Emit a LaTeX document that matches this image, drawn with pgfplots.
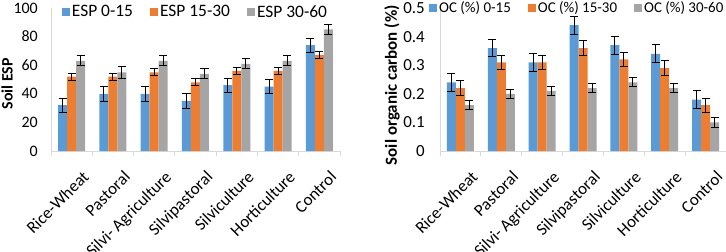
\documentclass[border=0pt]{standalone}
\usepackage{fontspec}
\setmainfont{Carlito}
\usepackage{pgfplots}
\pgfplotsset{compat=1.18}
\usepackage{pgfplotstable}
\definecolor{cBlue}{HTML}{5B9BD5}
\definecolor{cOrange}{HTML}{ED7D31}
\definecolor{cGray}{HTML}{A5A5A5}
\definecolor{axisgray}{HTML}{D9D9D9}

% ESP data
\pgfplotstableread{
x y e
0 32 5
1 40 5
2 40 5
3 35 5
4 46 5
5 45 5
6 74 5
}\espA
\pgfplotstableread{
x y e
0 52 2.5
1 52 2.5
2 55 2.5
3 48 2.5
4 56 2.5
5 56 2.5
6 67 2.5
}\espB
\pgfplotstableread{
x y e
0 63 3.5
1 55 4
2 63 3.5
3 54 3.5
4 61 3.5
5 63 3.5
6 85 3.5
}\espC
% OC data
\pgfplotstableread{
x y e
0 0.24 0.031
1 0.36 0.031
2 0.31 0.031
3 0.44 0.031
4 0.37 0.031
5 0.34 0.031
6 0.18 0.031
}\ocA
\pgfplotstableread{
x y e
0 0.22 0.025
1 0.31 0.025
2 0.31 0.025
3 0.36 0.025
4 0.32 0.025
5 0.29 0.025
6 0.16 0.025
}\ocB
\pgfplotstableread{
x y e
0 0.16 0.016
1 0.20 0.016
2 0.21 0.016
3 0.22 0.016
4 0.24 0.016
5 0.22 0.016
6 0.10 0.016
}\ocC

\pgfplotsset{
  mybars/.style={
    ybar=0pt, bar width=9bp, scale only axis, height=143bp,
    xmin=-0.5, xmax=6.5, xtick={0,...,6},
    xticklabels={Rice-Wheat,Pastoral,Silvi- Agriculture,Silvipastoral,Silviculture,Horticulture,Control},
    minor xtick={-0.5,0.5,...,6.5},
    axis x line*=bottom, axis y line*=left,
    axis line style={draw=axisgray, line width=0.8bp, -},
    every outer x axis line/.append style={-},
    every outer y axis line/.append style={-},
    tick align=outside,
    major tick length=0pt, minor tick length=5bp,
    minor x tick style={draw=axisgray, line width=0.8bp},
    ytick style={draw=none}, xtick style={draw=none},
    xticklabel style={rotate=45, anchor=north east, inner sep=0pt, xshift=-6.2bp, yshift=-20.1bp, font=\fontsize{17}{19}\selectfont},
    yticklabel style={anchor=east, inner sep=0pt},
    legend columns=3,
    legend cell align=left,
    legend style={draw=none, fill=none, anchor=center, inner sep=0pt,
      nodes={inner sep=2bp},
      /tikz/every even column/.append style={column sep=15bp}},
    clip=false,
  },
  sq/.style={legend image code/.code={\fill[##1] (0bp,-4bp) rectangle (8bp,4bp);}},
  eb/.style={error bars/.cd, y dir=both, y explicit,
    error bar style={black, line width=0.9bp},
    error mark options={black, rotate=90, mark size=4bp, line width=0.9bp}},
}

\begin{document}
\begin{tikzpicture}
\useasboundingbox (0,0) rectangle (726bp,252bp);
% Left chart
\begin{axis}[mybars, at={(51bp,101bp)}, anchor=south west, width=289bp,
  ymin=0, ymax=100, ytick={0,20,40,60,80,100},
  yticklabels={0,20,40,60,80,100},
  yticklabel style={xshift=-13bp, font=\fontsize{16}{18}\selectfont},
  every axis y label/.style={at={([xshift=-44bp]axis description cs:0,0.47)}, rotate=90, anchor=center, font=\bfseries\fontsize{16}{18}\selectfont},
  ylabel={Soil ESP},
  legend style={at={(0.5,0.972)}, font=\fontsize{17.5}{19}\selectfont},
]
\addplot[fill=cBlue, draw=none, sq, eb] table[x=x, y=y, y error=e]{\espA};
\addplot[fill=cOrange, draw=none, sq, eb] table[x=x, y=y, y error=e]{\espB};
\addplot[fill=cGray, draw=none, sq, eb] table[x=x, y=y, y error=e]{\espC};
\legend{ESP 0-15, ESP 15-30, ESP 30-60}
\end{axis}
% Right chart
\begin{axis}[mybars, at={(440bp,101bp)}, anchor=south west, width=286bp,
  ymin=0, ymax=0.5, ytick={0,0.1,0.2,0.3,0.4,0.5},
  yticklabels={0,0.1,0.2,0.3,0.4,0.5},
  yticklabel style={xshift=-15bp, font=\fontsize{17}{19}\selectfont},
  every axis y label/.style={at={([xshift=-48bp]axis description cs:0,0.46)}, rotate=90, anchor=center, font=\bfseries\fontsize{17}{19}\selectfont},
  ylabel={Soil organic carbon (\%)},
  legend style={at={(0.48,1)}, font=\fontsize{15}{17}\selectfont},
]
\addplot[fill=cBlue, draw=none, sq, eb] table[x=x, y=y, y error=e]{\ocA};
\addplot[fill=cOrange, draw=none, sq, eb] table[x=x, y=y, y error=e]{\ocB};
\addplot[fill=cGray, draw=none, sq, eb] table[x=x, y=y, y error=e]{\ocC};
\legend{OC (\%) 0-15, OC (\%) 15-30, OC (\%) 30-60}
\end{axis}
\end{tikzpicture}
\end{document}
